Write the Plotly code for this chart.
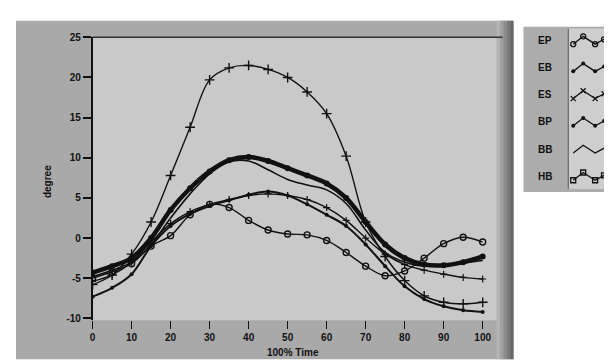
import plotly.graph_objects as go

W, H = 612, 361

# ---------------- data ----------------
time_pct = [0, 5, 10, 15, 20, 25, 30, 35, 40, 45, 50, 55, 60, 65, 70, 75, 80, 85, 90, 95, 100]

ep = [-5.0, -4.2, -3.2, -1.0, 0.3, 2.9, 4.2, 3.8, 2.2, 1.0, 0.5, 0.4, -0.3, -1.8, -3.5, -4.7, -4.1, -2.5, -0.7, 0.1, -0.5]
eb = [-4.3, -3.5, -2.5, 0.0, 3.5, 6.2, 8.3, 9.7, 10.1, 9.6, 8.7, 7.8, 6.8, 5.0, 2.0, -0.8, -2.5, -3.3, -3.4, -3.0, -2.3]
es = [-5.8, -4.6, -2.0, 2.0, 7.8, 13.8, 19.7, 21.2, 21.5, 21.0, 20.0, 18.2, 15.5, 10.2, 2.0, -2.3, -5.3, -7.2, -8.0, -8.2, -8.0]
bp = [-7.3, -6.2, -4.5, -1.0, 1.5, 3.0, 4.0, 4.7, 5.4, 5.8, 5.3, 4.2, 2.9, 1.5, -0.8, -3.5, -6.0, -7.6, -8.5, -9.0, -9.2]
bb = [-4.8, -4.0, -3.0, -0.8, 2.5, 5.5, 8.0, 9.5, 9.6, 8.5, 7.3, 6.6, 6.0, 4.3, 1.0, -1.8, -3.0, -3.5, -3.4, -3.1, -2.8]
hb = [-5.4, -4.6, -3.0, -0.5, 1.8, 3.3, 4.2, 4.8, 5.3, 5.5, 5.3, 4.8, 3.8, 2.2, 0.0, -2.0, -3.3, -4.0, -4.5, -4.9, -5.1]

series_names = ["EP", "EB", "ES", "BP", "BB", "HB"]
series_values = [ep, eb, es, bp, bb, hb]

x_ticks = [0, 10, 20, 30, 40, 50, 60, 70, 80, 90, 100]
y_ticks = [-10, -5, 0, 5, 10, 15, 20, 25]

# ---------------- styles ----------------
styles = {
    "EP": dict(mode="lines+markers", line=dict(width=1.4),
               marker=dict(symbol="circle-open", size=6, line=dict(width=1.4))),
    "EB": dict(mode="lines+markers", line=dict(width=4.5),
               marker=dict(symbol="circle", size=6)),
    "ES": dict(mode="lines+markers", line=dict(width=1.4),
               marker=dict(symbol="cross-thin-open", size=7, line=dict(width=1.4))),
    "BP": dict(mode="lines+markers", line=dict(width=2),
               marker=dict(symbol="circle", size=4)),
    "BB": dict(mode="lines", line=dict(width=1.6), marker=dict(size=4)),
    "HB": dict(mode="lines+markers", line=dict(width=1.4),
               marker=dict(symbol="cross-thin-open", size=5, line=dict(width=1.2))),
}
legend_symbols = {
    "EP": dict(symbol="circle-open", size=5, line=dict(width=1.3, color="#111")),
    "EB": dict(symbol="circle", size=4, color="#111"),
    "ES": dict(symbol="x-thin-open", size=5, line=dict(width=1.3, color="#111")),
    "BP": dict(symbol="circle", size=4, color="#111"),
    "BB": dict(symbol="circle", size=1, color="#111"),
    "HB": dict(symbol="square-open", size=5, line=dict(width=1.3, color="#111")),
}

INK = "#111111"
FONT = dict(family="Liberation Sans, Arial, sans-serif", size=10, color=INK)

# plot area in pixels
PL, PR, PT, PB = 82, 488, 24, 315
X0PX, X100PX = 82, 474
YTOPV, YTOPPX, YBOTV, YBOTPX = 25, 24, -10, 313

xpu = (X100PX - X0PX) / 100.0
ypu = (YBOTPX - YTOPPX) / (YTOPV - YBOTV)
x_range = [(PL - X0PX) / xpu, (PR - X0PX) / xpu]
y_range = [YBOTV - (PB - YBOTPX) / ypu, YTOPV + (YTOPPX - PT) / ypu]

def fx(px):
    return px / W

def fy(py):
    return 1 - py / H

fig = go.Figure()

for name, vals in zip(series_names, series_values):
    st = styles[name]
    fig.add_trace(go.Scatter(
        x=time_pct, y=vals, name=name, mode=st["mode"],
        line=dict(color=INK, width=st["line"]["width"], shape="spline", smoothing=1.0),
        marker=dict(color=INK, **{k: v for k, v in st["marker"].items()}),
        showlegend=False, hoverinfo="skip",
    ))

# ---------------- custom legend (glyphs on an overlay axis in pixel units) ----------------
LEG_X0, LEG_X1, LEG_Y0, LEG_Y1 = 561, 599, 13, 183
row_y = [27 + 28 * i for i in range(len(series_names))]
glyph_dx = [4, 14, 26, 35]
glyph_dy = [4, -4, 4, -1]
for i, name in enumerate(series_names):
    fig.add_trace(go.Scatter(
        x=glyph_dx, y=[row_y[i] + d for d in glyph_dy],
        mode="lines+markers" if name != "BB" else "lines",
        line=dict(color=INK, width=1.3),
        marker=legend_symbols[name] if name != "BB" else None,
        xaxis="x2", yaxis="y2", showlegend=False, hoverinfo="skip", cliponaxis=False,
    ))

shapes = []
# chart panel
shapes.append(dict(type="rect", xref="paper", yref="paper", x0=fx(5), x1=fx(505), y0=fy(355), y1=fy(7),
                   fillcolor="#a9a9a9", line=dict(width=0), layer="below"))
# right-side shading of panel
for i, c in enumerate(["#b4b4b4", "#a0a0a0", "#8c8c8c", "#7a7a7a", "#666666"]):
    shapes.append(dict(type="rect", xref="paper", yref="paper", x0=fx(488 + i * 3.4), x1=fx(488 + (i + 1) * 3.4),
                       y0=fy(355), y1=fy(7), fillcolor=c, line=dict(width=0), layer="below"))
# plot area
shapes.append(dict(type="rect", xref="paper", yref="paper", x0=fx(PL), x1=fx(PR), y0=fy(PB), y1=fy(PT),
                   fillcolor="#c9c9c9", line=dict(width=0), layer="below"))
# top border of plot
shapes.append(dict(type="line", xref="paper", yref="paper", x0=fx(PL), x1=fx(PR + 6), y0=fy(PT), y1=fy(PT),
                   line=dict(color="#333333", width=1.5), layer="below"))
# legend box
shapes.append(dict(type="rect", xref="paper", yref="paper", x0=fx(515), x1=fx(610), y0=fy(LEG_Y1), y1=fy(LEG_Y0),
                   fillcolor="#acacac", line=dict(width=0), layer="below"))
shapes.append(dict(type="rect", xref="paper", yref="paper", x0=fx(LEG_X0 - 1), x1=fx(598), y0=fy(LEG_Y1 - 3), y1=fy(LEG_Y0 + 2),
                   fillcolor="#cecece", line=dict(width=0), layer="below"))
for i, c in enumerate(["#a8a8a8", "#8f8f8f", "#7a7a7a"]):
    shapes.append(dict(type="rect", xref="paper", yref="paper", x0=fx(598 + i * 4), x1=fx(602 + i * 4),
                       y0=fy(LEG_Y1), y1=fy(LEG_Y0), fillcolor=c, line=dict(width=0), layer="below"))
shapes.append(dict(type="line", xref="paper", yref="paper", x0=fx(LEG_X0 - 1), x1=fx(LEG_X0 - 1),
                   y0=fy(LEG_Y1 - 3), y1=fy(LEG_Y0 + 2), line=dict(color="#555555", width=1), layer="below"))

annotations = []
for i, name in enumerate(series_names):
    annotations.append(dict(text="<b>%s</b>" % name, xref="paper", yref="paper", x=fx(537), y=fy(row_y[i]),
                            xanchor="center", yanchor="middle", showarrow=False, font=FONT))
annotations.append(dict(text="<b>100% Time</b>", xref="paper", yref="paper", x=fx(283), y=fy(348),
                        xanchor="center", yanchor="middle", showarrow=False, font=FONT))
annotations.append(dict(text="<b>degree</b>", xref="paper", yref="paper", x=fx(36), y=fy(172),
                        xanchor="center", yanchor="middle", showarrow=False, textangle=-90, font=FONT))

fig.update_layout(
    width=W, height=H,
    margin=dict(l=0, r=0, t=0, b=0),
    paper_bgcolor="white",
    plot_bgcolor="rgba(0,0,0,0)",
    font=FONT,
    shapes=shapes,
    annotations=annotations,
    xaxis=dict(domain=[fx(PL), fx(PR)], range=x_range, tickvals=x_ticks,
               ticktext=["<b>%d</b>" % v for v in x_ticks],
               ticks="outside", ticklen=8, tickwidth=1.2, tickcolor=INK,
               showgrid=False, zeroline=False, showline=False, anchor="y"),
    yaxis=dict(domain=[fy(PB), fy(PT)], range=y_range, tickvals=y_ticks,
               ticktext=["<b>%d</b>" % v for v in y_ticks],
               ticks="outside", ticklen=8, tickwidth=1.5, tickcolor=INK,
               showgrid=False, zeroline=False, showline=True, linecolor=INK, linewidth=1.5,
               anchor="x"),
    xaxis2=dict(domain=[fx(LEG_X0), fx(LEG_X0 + 39)], range=[0, 39], visible=False, anchor="y2"),
    yaxis2=dict(domain=[fy(LEG_Y1), fy(LEG_Y0)], range=[LEG_Y1, LEG_Y0], visible=False, anchor="x2"),
    showlegend=False,
)

fig.write_html("out.html")
